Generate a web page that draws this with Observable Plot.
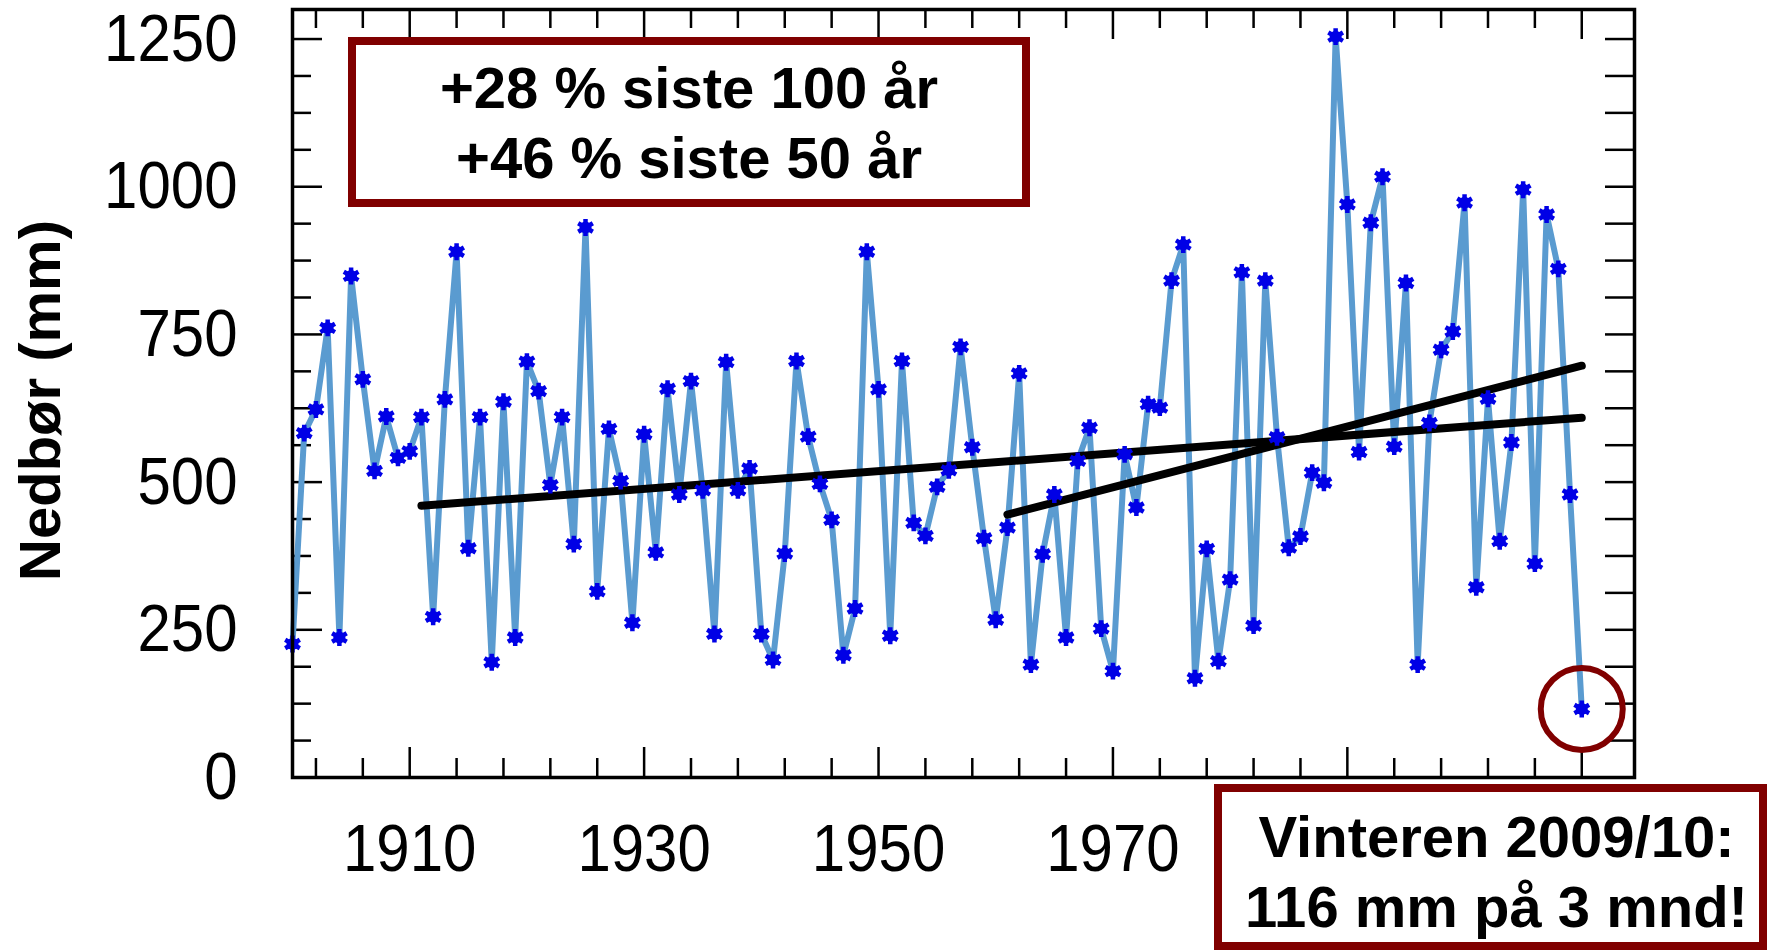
<!DOCTYPE html>
<html>
<head>
<meta charset="utf-8">
<script src="https://cdn.jsdelivr.net/npm/d3@7"></script>
<script src="https://cdn.jsdelivr.net/npm/@observablehq/plot@0.6"></script>
<style>
  html, body { margin: 0; padding: 0; background: #fff; }
  #wrap { position: relative; width: 1767px; height: 950px; overflow: hidden; font-family: "Liberation Sans", Arial, sans-serif; }
  .box { position: absolute; box-sizing: border-box; border: 8px solid #800000; background: #fff;
         font-weight: bold; font-size: 58px; line-height: 70px; text-align: center; color: #000; white-space: nowrap; }
</style>
</head>
<body>
<div id="wrap"></div>
<script>
// ---- data ----
const startYear = 1900;
const precip = [
  226, 583, 623, 761, 237, 849, 674, 519, 611, 541,   // 1900-1909
  552, 610, 272, 640, 890, 388, 610, 195, 636, 237,   // 1910-1919
  704, 654, 495, 610, 395, 931, 315, 590, 502, 262,   // 1920-1929
  581, 381, 658, 479, 671, 486, 243, 703, 486, 523,   // 1930-1939
  243, 199, 379, 705, 577, 497, 436, 207, 286, 890,   // 1940-1949
  657, 240, 705, 431, 409, 492, 520, 729, 559, 405,   // 1950-1959
  267, 423, 684, 191, 378, 479, 237, 536, 592, 252,   // 1960-1969
  180, 547, 457, 632, 626, 841, 902, 168, 387, 197,   // 1970-1979
  335, 855, 257, 841, 576, 389, 408, 516, 499, 1254,  // 1980-1989
  970, 551, 939, 1017, 560, 837, 191, 600, 724, 755,  // 1990-1999
  973, 322, 641, 400, 567, 995, 362, 953, 861, 479,   // 2000-2009
  116                                                 // 2010
];
const trendIds    = ["100 år", "100 år", "50 år", "50 år"];
const trendYears  = [1911, 2010, 1961, 2010];
const trendValues = [460, 609, 445, 697];
const yMajorTicks = [0, 250, 500, 750, 1000, 1250];
const yMinorTicks = [62.5, 125, 187.5, 312.5, 375, 437.5, 562.5, 625, 687.5, 812.5, 875, 937.5, 1062.5, 1125, 1187.5];
const xMajorTicks = [1910, 1930, 1950, 1970, 1990, 2010];
const xLabelTicks = [1910, 1930, 1950, 1970];   // 1990 and 2010 are hidden behind the note box
const xMinorTicks = [1902, 1906, 1914, 1918, 1922, 1926, 1934, 1938, 1942, 1946, 1954, 1958, 1962, 1966, 1974, 1978, 1982, 1986, 1994, 1998, 2002, 2006];
const boxTopText = ["+28 % siste 100 år", "+46 % siste 50 år"];
const boxBottomText = ["Vinteren 2009/10:", "116 mm på 3 mnd!"];
const yTitle = "Nedbør (mm)";

// ---- derived tables ----
const series = precip.map((v, i) => ({year: startYear + i, value: v}));
const trends = trendIds.map((id, i) => ({id, year: trendYears[i], value: trendValues[i]}));
const lastPoint = [series[series.length - 1]];

const W = 1767, H = 950, mL = 292, mR = 133, mT = 9, mB = 173;
const innerW = W - mL - mR, innerH = H - mT - mB;
const tickStyle = {stroke: "black", strokeWidth: 2.5};

const chart = Plot.plot({
  width: W, height: H,
  marginLeft: mL, marginRight: mR, marginTop: mT, marginBottom: mB,
  style: {fontFamily: "'Liberation Sans', Arial, sans-serif", background: "white", color: "black", overflow: "visible"},
  x: {domain: [1900, 2014.5]},
  y: {domain: [0, 1300]},
  marks: [
    // inward ticks: left
    Plot.tickY(yMinorTicks, {y: d => d, insetRight: innerW - 19, ...tickStyle}),
    Plot.tickY(yMajorTicks, {y: d => d, insetRight: innerW - 30, ...tickStyle}),
    // right
    Plot.tickY(yMinorTicks.concat(yMajorTicks), {y: d => d, insetLeft: innerW - 29, ...tickStyle}),
    // bottom
    Plot.tickX(xMinorTicks, {x: d => d, insetTop: innerH - 19, ...tickStyle}),
    Plot.tickX(xMajorTicks, {x: d => d, insetTop: innerH - 30, ...tickStyle}),
    // top
    Plot.tickX(xMinorTicks, {x: d => d, insetBottom: innerH - 19, ...tickStyle}),
    Plot.tickX(xMajorTicks, {x: d => d, insetBottom: innerH - 30, ...tickStyle}),
    // data
    Plot.line(series, {x: "year", y: "value", stroke: "#5a9bd0", strokeWidth: 6}),
    Plot.line(trends, {x: "year", y: "value", z: "id", stroke: "black", strokeWidth: 8}),
    Plot.dot(series, {x: "year", y: "value", r: 6, fill: "#0000e6", stroke: "none"}),
    Plot.dot(series, {x: "year", y: "value", symbol: "asterisk", r: 8, stroke: "#0000e6", strokeWidth: 4.5}),
    Plot.dot(lastPoint, {x: "year", y: "value", r: 41, stroke: "#800000", strokeWidth: 6, fill: "none"}),
    Plot.frame({stroke: "black", strokeWidth: 3.5}),
    // axes labels
    Plot.axisY({ticks: yMajorTicks, tickSize: 0, tickPadding: 55, fontSize: 60, tickFormat: d => String(d), label: null}),
    Plot.axisX({ticks: xLabelTicks, tickSize: 0, tickPadding: 46, fontSize: 60, tickFormat: d => String(d), label: null}),
    Plot.text([yTitle], {frameAnchor: "left", textAnchor: "middle", rotate: -90, dx: -251, dy: 7, fontSize: 58, fontWeight: "bold", fill: "black"})
  ]
});

// slightly taller glyphs for tick labels, like the reference
chart.querySelectorAll('g[aria-label="y-axis tick label"] text, g[aria-label="x-axis tick label"] text').forEach(t => {
  const tr = t.getAttribute("transform");
  if (tr && tr.includes("translate")) t.setAttribute("transform", tr + " scale(1,1.12)");
});

const wrap = document.getElementById("wrap");
wrap.appendChild(chart);

function addBox(lines, left, top, width, height, padTop, padLeft) {
  const d = document.createElement("div");
  d.className = "box";
  Object.assign(d.style, {left: left + "px", top: top + "px", width: width + "px", height: height + "px",
    paddingTop: padTop + "px", paddingLeft: padLeft + "px"});
  lines.forEach(s => { const l = document.createElement("div"); l.textContent = s; d.appendChild(l); });
  wrap.appendChild(d);
}
addBox(boxTopText, 348, 37, 682, 170, 8, 0);
addBox(boxBottomText, 1214, 784, 553, 166, 10, 12);
</script>
</body>
</html>
